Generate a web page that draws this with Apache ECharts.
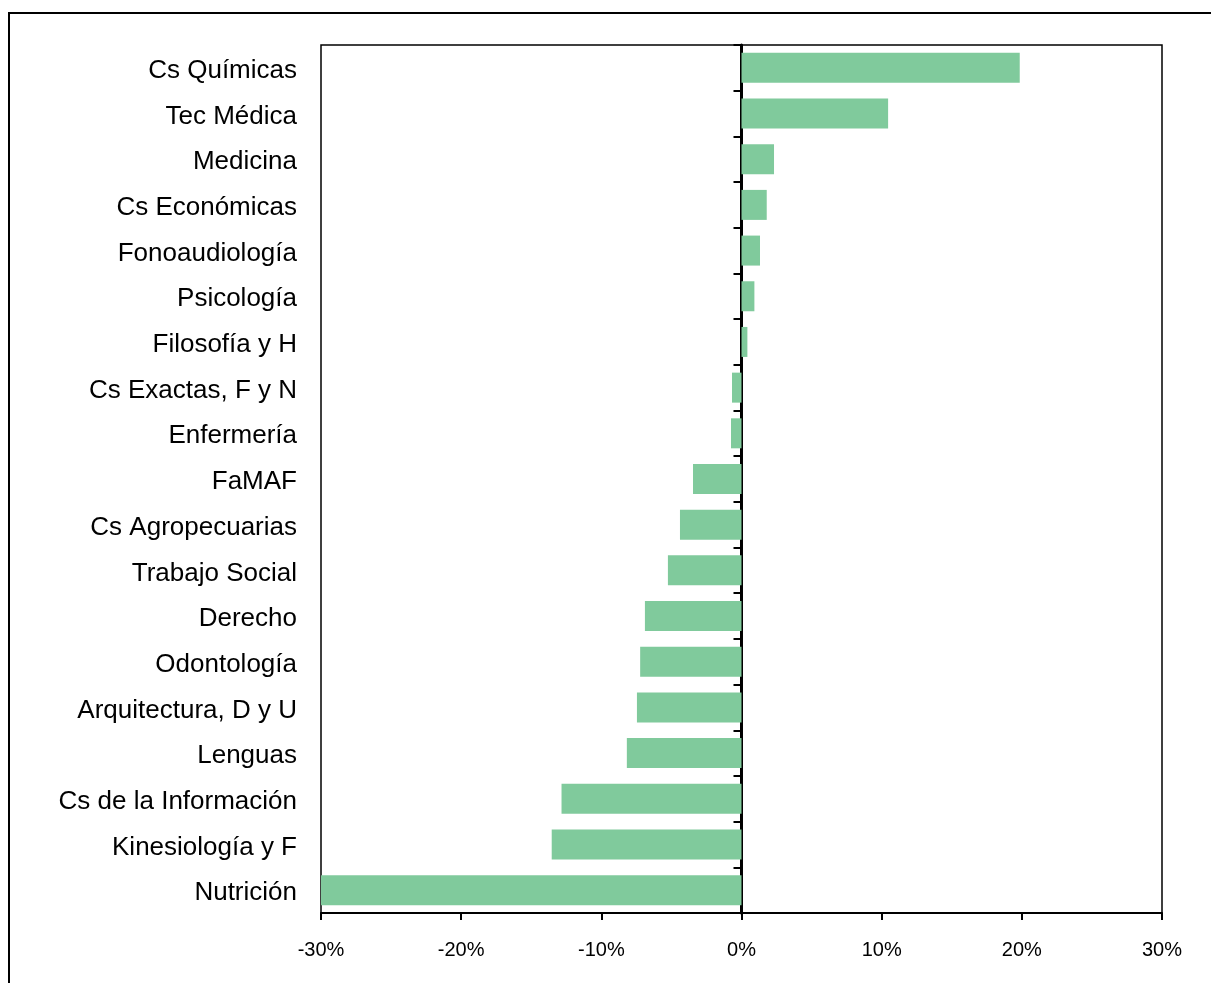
<!DOCTYPE html>
<html>
<head>
<meta charset="utf-8">
<script src="https://cdn.jsdelivr.net/npm/echarts@6/dist/echarts.min.js"></script>
<style>html,body{margin:0;padding:0;background:#fff;}#c{width:1211px;height:983px;}</style>
</head>
<body>
<div id="c"></div>
<script>
const categories = ["Cs Químicas","Tec Médica","Medicina","Cs Económicas","Fonoaudiología","Psicología","Filosofía y H","Cs Exactas, F y N","Enfermería","FaMAF","Cs Agropecuarias","Trabajo Social","Derecho","Odontología","Arquitectura, D y U","Lenguas","Cs de la Información","Kinesiología y F","Nutrición"];
const values = [19.85,10.46,2.32,1.8,1.32,0.92,0.42,-0.68,-0.75,-3.46,-4.39,-5.25,-6.89,-7.23,-7.46,-8.18,-12.84,-13.54,-30];
const xTicks = {min:-30, max:30, interval:10};

const chart = echarts.init(document.getElementById('c'), null, {renderer:'canvas'});
chart.setOption({
  animation:false,
  backgroundColor:'#fff',
  graphic:[{type:'rect', shape:{x:9,y:13,width:1230,height:1000}, style:{fill:'none', stroke:'#000', lineWidth:2}, silent:true}],
  grid:{left:321, right:49, top:45, bottom:70, show:true, borderColor:'#000', borderWidth:1.5, backgroundColor:'transparent'},
  xAxis:{type:'value', min:xTicks.min, max:xTicks.max, interval:xTicks.interval,
    axisLine:{show:true, onZero:false, lineStyle:{color:'#000', width:2}},
    axisTick:{show:true, length:7, lineStyle:{color:'#000', width:2}},
    splitLine:{show:false},
    axisLabel:{formatter:'{value}%', color:'#000', fontSize:20, fontFamily:'Liberation Sans, Arial, sans-serif', margin:27}
  },
  yAxis:[
    {type:'category', data:categories, inverse:true, position:'left',
      axisLine:{show:false, onZero:false}, axisTick:{show:false},
      axisLabel:{color:'#000', fontSize:26, fontFamily:'Liberation Sans, Arial, sans-serif', margin:24,
        formatter:function(v){return '{a|' + v + '}';},
        rich:{a:{fontSize:26, color:'#000', fontFamily:'Liberation Sans, Arial, sans-serif', padding:[6,0,0,0]}}}},
    {type:'category', data:categories, inverse:true, position:'left',
      axisLine:{show:true, onZero:true, lineStyle:{color:'#000', width:3}},
      axisTick:{show:true, length:8, lineStyle:{color:'#000', width:2}},
      axisLabel:{show:false}}
  ],
  series:[{type:'bar', data:values, yAxisIndex:0, barWidth:30,
    itemStyle:{color:'#80CA9C'}}]
});
</script>
</body>
</html>
